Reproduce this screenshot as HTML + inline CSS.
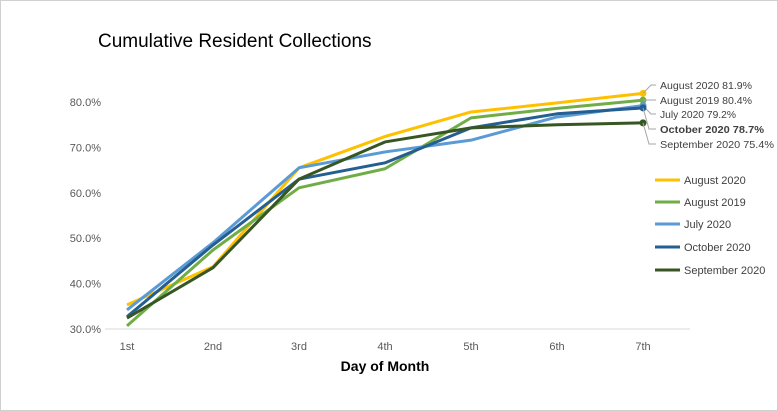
<!DOCTYPE html>
<html><head><meta charset="utf-8"><style>
body{margin:0;background:#fff;}
svg{display:block;font-family:"Liberation Sans",sans-serif;}
</style></head><body>
<svg id="c" width="778" height="411">
<rect x="0.5" y="0.5" width="777" height="410" fill="#fff" stroke="#d0d0d0"/>
<text x="98" y="47" font-size="19" fill="#000">Cumulative Resident Collections</text>
<text x="385" y="371" font-size="14" font-weight="bold" text-anchor="middle" fill="#000">Day of Month</text>
<g id="grid"></g><g id="lines"></g><g id="labels"></g><g id="legend"></g>
</svg>
<script>
const categories=["1st","2nd","3rd","4th","5th","6th","7th"];
const yTicks=[30,40,50,60,70,80];
const seriesNames=["August 2020","August 2019","July 2020","October 2020","September 2020"];
const aug2020=[35.3,43.7,65.5,72.4,77.8,79.8,81.9];
const aug2019=[30.7,47.4,61.1,65.3,76.5,78.6,80.4];
const jul2020=[34.2,49.0,65.5,69.0,71.6,76.7,79.2];
const oct2020=[32.7,48.5,63.0,66.6,74.3,77.4,78.7];
const sep2020=[32.4,43.5,63.0,71.2,74.3,75.0,75.4];
const colors=["#FFC000","#70AD47","#5B9BD5","#255E91","#375623"];
const all=[aug2020,aug2019,jul2020,oct2020,sep2020];
const NS="http://www.w3.org/2000/svg";
const x=i=>127+i*86;
const y=v=>329-(v-30)*4.54;
function mk(t,a,p){const e=document.createElementNS(NS,t);for(const k in a)e.setAttribute(k,a[k]);p.appendChild(e);return e;}
const grid=document.getElementById('grid');
const ax=mk('line',{x1:105,x2:690,y1:329,y2:329,stroke:'#d9d9d9'},grid);


yTicks.forEach(t=>{const e=mk('text',{x:101,y:y(t)+4,'font-size':11,'text-anchor':'end',fill:'#595959'},grid);e.textContent=t.toFixed(1)+'%';

});
categories.forEach((c,i)=>{const e=mk('text',{x:x(i),y:350,'font-size':11,'text-anchor':'middle',fill:'#595959'},grid);e.textContent=c;

});
const lines=document.getElementById('lines');
all.forEach((s,k)=>{const p=mk('polyline',{points:s.map((v,i)=>x(i)+','+y(v)).join(' '),fill:'none',stroke:colors[k],'stroke-width':3,'stroke-linejoin':'round'},lines);

});
const labY=[89,104,118,133,148];
const labels=document.getElementById('labels');
[0,1,2,4,3].forEach(k=>{const s=all[k];const v=s[s.length-1];const px=x(6),py=y(v);
const c=mk('circle',{cx:px,cy:py,r:3.5,fill:colors[k]},labels);


const ly=labY[k];
const l=mk('polyline',{points:px+','+py+' '+(px+(k>=3?6:8))+','+(ly-4)+' '+(px+13)+','+(ly-4),fill:'none',stroke:'#a6a6a6','stroke-width':1},labels);


const t=mk('text',{x:660,y:ly,'font-size':10.5,fill:'#404040','font-weight':k==3?'bold':'normal',textLength:k==4?114:(k==3?104:(k==2?76:92)),lengthAdjust:'spacingAndGlyphs'},labels);
t.textContent=seriesNames[k]+' '+v.toFixed(1)+'%';

});
const leg=document.getElementById('legend');
const legY=[180,202,224,247,270];
seriesNames.forEach((n,k)=>{const g=mk('g',{},leg);


mk('line',{x1:655,x2:680,y1:legY[k],y2:legY[k],stroke:colors[k],'stroke-width':3},g);
const t=mk('text',{x:684,y:legY[k]+4,'font-size':11,fill:'#404040'},g);t.textContent=n;});
</script>
</body></html>
